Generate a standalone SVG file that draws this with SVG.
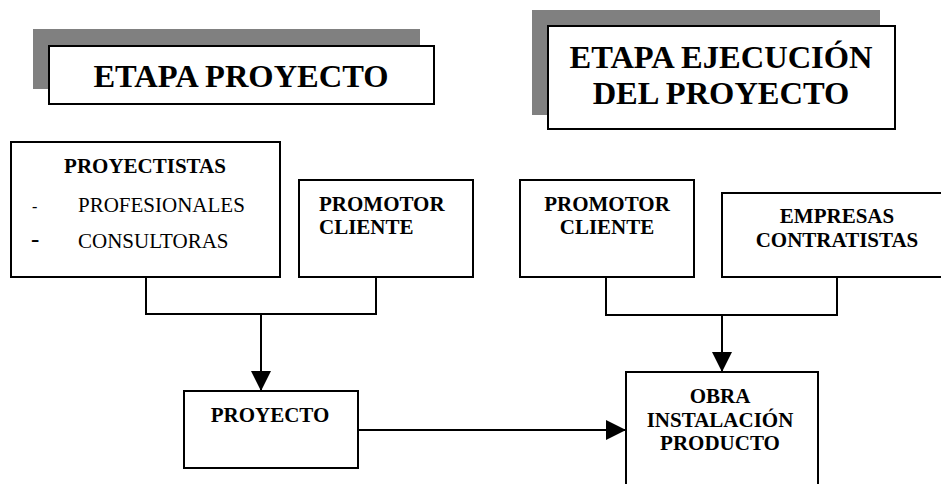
<svg xmlns="http://www.w3.org/2000/svg" width="941" height="484" viewBox="0 0 941 484">
<style>
.box{fill:#fff;stroke:#000;stroke-width:2}
.shadow{fill:#808080;stroke:none}
.ln{fill:none;stroke:#000;stroke-width:2}
.t{font-family:"Liberation Serif","Times New Roman",serif;fill:#000}
.title{font-size:32.5px;font-weight:bold}
.lbl{font-size:21px;font-weight:bold}
.reg{font-size:21px}
</style>
<defs>
<marker id="arr" markerUnits="userSpaceOnUse" markerWidth="22" markerHeight="22" refX="20" refY="10" orient="auto">
<path d="M0,0 L20,10 L0,20 Z" fill="#000"/>
</marker>
</defs>
<rect width="941" height="484" fill="#fff"/>
<g id="connectors">
<path class="ln" d="M146,277 V314 H376 V277"/>
<path class="ln" d="M261,314 V391" marker-end="url(#arr)"/>
<path class="ln" d="M606,277 V315 H837 V277"/>
<path class="ln" d="M722,315 V372" marker-end="url(#arr)"/>
<path class="ln" d="M358,430 H626" marker-end="url(#arr)"/>
</g>
<g id="title-proyecto">
<rect class="shadow" x="33" y="29" width="387" height="60"/>
<rect class="box" x="49" y="46" width="385" height="58"/>
<text class="t title" x="241" y="87" text-anchor="middle">ETAPA PROYECTO</text>
</g>
<g id="title-ejecucion">
<rect class="shadow" x="532" y="10" width="348" height="105"/>
<rect class="box" x="548" y="26" width="347" height="103"/>
<text class="t title" x="721" y="68" text-anchor="middle">ETAPA EJECUCIÓN</text>
<text class="t title" x="721" y="104" text-anchor="middle">DEL PROYECTO</text>
</g>
<g id="proyectistas">
<rect class="box" x="11" y="142" width="269" height="135"/>
<text class="t lbl" x="145" y="173" text-anchor="middle">PROYECTISTAS</text>
<text class="t" x="32" y="212" font-size="16">-</text>
<text class="t reg" x="78" y="212">PROFESIONALES</text>
<text class="t" x="31" y="247" font-size="25">-</text>
<text class="t reg" x="78" y="248">CONSULTORAS</text>
</g>
<g id="promotor1">
<rect class="box" x="299" y="180" width="174" height="97"/>
<text class="t lbl" x="319" y="211">PROMOTOR</text>
<text class="t lbl" x="319" y="234">CLIENTE</text>
</g>
<g id="promotor2">
<rect class="box" x="520" y="180" width="174" height="97"/>
<text class="t lbl" x="607" y="211" text-anchor="middle">PROMOTOR</text>
<text class="t lbl" x="607" y="234" text-anchor="middle">CLIENTE</text>
</g>
<g id="empresas">
<rect class="box" x="722" y="193" width="230" height="84"/>
<text class="t lbl" x="837" y="223" text-anchor="middle">EMPRESAS</text>
<text class="t lbl" x="837" y="247" text-anchor="middle">CONTRATISTAS</text>
</g>
<g id="proyecto">
<rect class="box" x="184" y="391" width="174" height="77"/>
<text class="t lbl" x="270" y="422" text-anchor="middle">PROYECTO</text>
</g>
<g id="obra">
<rect class="box" x="626" y="372" width="192" height="130"/>
<text class="t lbl" x="720" y="403" text-anchor="middle">OBRA</text>
<text class="t lbl" x="720" y="427" text-anchor="middle">INSTALACIÓN</text>
<text class="t lbl" x="720" y="450" text-anchor="middle">PRODUCTO</text>
</g>
</svg>
